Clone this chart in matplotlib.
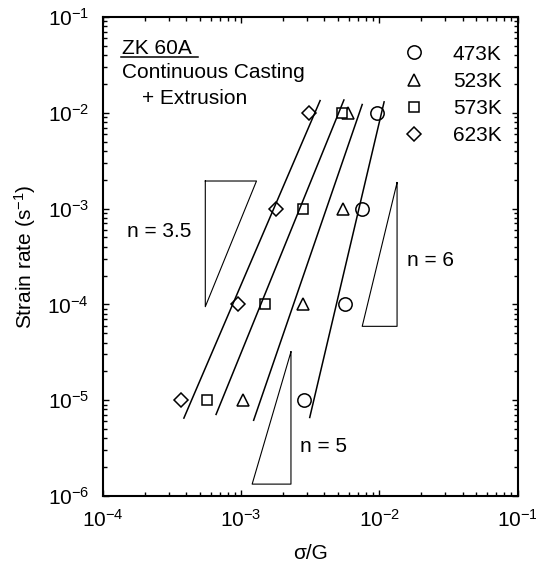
import matplotlib
matplotlib.use("Agg")
import matplotlib.pyplot as plt
from matplotlib.lines import Line2D

plt.rcParams['font.family'] = ['Liberation Sans', 'DejaVu Sans']
plt.rcParams['mathtext.fontset'] = 'custom'
plt.rcParams['mathtext.rm'] = 'Liberation Sans'
plt.rcParams['mathtext.it'] = 'Liberation Sans:italic'

# strain rate levels (s^-1)
rates = [1e-2, 1e-3, 1e-4, 1e-5]

# sigma/G at each rate, per temperature
s_473 = [9.53e-3, 7.43e-3, 5.65e-3, 2.86e-3]
s_523 = [5.94e-3, 5.47e-3, 2.78e-3, 1.035e-3]
s_573 = [5.32e-3, 2.81e-3, 1.48e-3, 5.62e-4]
s_623 = [3.1e-3, 1.78e-3, 9.5e-4, 3.66e-4]

# fitted lines: (x0, x1), (y0, y1)
fit_623 = ([3.85e-4, 3.72e-3], [6.5e-6, 1.34e-2])
fit_573 = ([6.58e-4, 5.53e-3], [7.1e-6, 1.36e-2])
fit_523 = ([1.23e-3, 7.5e-3], [6.17e-6, 1.22e-2])
fit_473 = ([3.13e-3, 1.08e-2], [6.6e-6, 1.30e-2])

# slope triangles (closed outlines)
tri_35 = ([5.5e-4, 1.29e-3, 5.5e-4, 5.5e-4], [1.94e-3, 1.94e-3, 9.46e-5, 1.94e-3])
tri_6 = ([1.34e-2, 7.5e-3, 1.34e-2, 1.34e-2], [1.87e-3, 5.9e-5, 5.9e-5, 1.87e-3])
tri_5 = ([2.29e-3, 1.2e-3, 2.29e-3, 2.29e-3], [3.2e-5, 1.33e-6, 1.33e-6, 3.2e-5])

fs = 15

fig = plt.figure(figsize=(5.36, 5.68), dpi=100)
ax = fig.add_axes([0.192, 0.1268, 0.774, 0.8433])
ax.set_xscale('log')
ax.set_yscale('log')

mk = dict(linestyle='none', markerfacecolor='white', markeredgecolor='black',
          markeredgewidth=1.1)
ax.plot(s_473, rates, marker='o', markersize=9.6, label='473K', **mk)
ax.plot(s_523, rates, marker='^', markersize=8, label='523K', **mk)
ax.plot(s_573, rates, marker='s', markersize=7.7, label='573K', **mk)
ax.plot(s_623, rates, marker='D', markersize=6.7, label='623K', **mk)

for fx, fy in [fit_623, fit_573, fit_523, fit_473]:
    ax.plot(fx, fy, color='black', linewidth=1.1)

for tx, ty in [tri_35, tri_6, tri_5]:
    ax.plot(tx, ty, color='black', linewidth=0.8)

ax.set_xlim(1e-4, 1e-1)
ax.set_ylim(1e-6, 1e-1)

ax.tick_params(which='both', direction='in', top=True, right=True, labelsize=fs)
ax.tick_params(which='major', length=4.5, width=1)
ax.tick_params(which='minor', length=3, width=1)
ax.tick_params(axis='x', pad=9)
ax.tick_params(axis='y', pad=10)
for sp in ax.spines.values():
    sp.set_linewidth(1.5)

ax.set_xlabel('σ/G', fontsize=fs, labelpad=10)
ax.set_ylabel('Strain rate (s$^{-1}$)', fontsize=fs, labelpad=7)

ax.text(0.046, 0.9228, 'ZK 60A', transform=ax.transAxes, fontsize=fs, va='baseline')
ax.add_line(Line2D([0.044, 0.228], [0.9159, 0.9159], transform=ax.transAxes,
                   color='black', linewidth=1.1))
ax.text(0.046, 0.8727, 'Continuous Casting', transform=ax.transAxes, fontsize=fs,
        va='baseline')
ax.text(0.0933, 0.8184, '+ Extrusion', transform=ax.transAxes, fontsize=fs,
        va='baseline')
ax.text(0.058, 0.5407, 'n = 3.5', transform=ax.transAxes, fontsize=fs, va='baseline')
ax.text(0.732, 0.480, 'n = 6', transform=ax.transAxes, fontsize=fs, va='baseline')
ax.text(0.475, 0.0925, 'n = 5', transform=ax.transAxes, fontsize=fs, va='baseline')

ax.legend(loc='upper right', bbox_to_anchor=(0.961, 0.942), frameon=False,
          fontsize=fs, numpoints=1, handlelength=1.0, handletextpad=1.37,
          labelspacing=0.39, borderpad=0, borderaxespad=0)

fig.savefig('out.png', dpi=100)
